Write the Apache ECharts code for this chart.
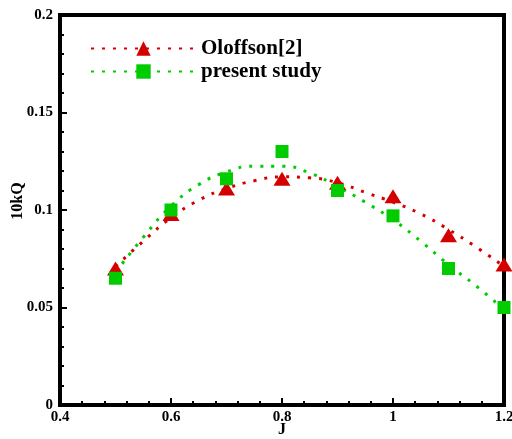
<!DOCTYPE html>
<html>
<head>
<meta charset="utf-8">
<script src="https://cdn.jsdelivr.net/npm/echarts@6/dist/echarts.min.js"></script>
<style>
  html, body { margin: 0; padding: 0; background: #fff; }
  #chart { width: 512px; height: 439px; }
</style>
</head>
<body>
<div id="chart"></div>
<script>
// 测点
const jVals = [0.5, 0.6, 0.7, 0.8, 0.9, 1.0, 1.1, 1.2];
const oloffVals = [0.070, 0.098, 0.111, 0.116, 0.114, 0.107, 0.087, 0.072];
const presentVals = [0.065, 0.100, 0.116, 0.130, 0.110, 0.097, 0.070, 0.050];
// 拟合曲线
const curveJ = [0.5, 0.55, 0.6, 0.65, 0.7, 0.75, 0.8, 0.85, 0.9, 0.95, 1.0, 1.05, 1.1, 1.15, 1.2];
const oloffCurve = [0.071, 0.084, 0.096, 0.105, 0.111, 0.115, 0.117, 0.1165, 0.114, 0.109, 0.104, 0.098, 0.090, 0.081, 0.071];
const presentCurve = [0.068, 0.086, 0.102, 0.113, 0.1195, 0.1225, 0.1225, 0.119, 0.112, 0.104, 0.095, 0.084, 0.072, 0.061, 0.049];
const seriesNames = ['Oloffson[2]', 'present study'];

const RED = '#d40000';
const GREEN = '#00cc00';
const FONT = 'Liberation Serif';

const pair = (xs, ys) => xs.map((x, i) => [x, ys[i]]);

const chart = echarts.init(document.getElementById('chart'));

const axisCommon = {
  type: 'value',
  nameMoveOverlap: false,
  axisLine: { show: true, onZero: false, lineStyle: { color: '#000', width: 4 } },
  axisTick: { show: true, inside: true, length: 7, lineStyle: { color: '#000', width: 2 } },
  minorTick: { show: true, splitNumber: 5, length: 4, lineStyle: { color: '#000', width: 2 } },
  splitLine: { show: false },
  axisLabel: { color: '#000', fontFamily: FONT, fontWeight: 'bold', fontSize: 15 },
  nameTextStyle: { color: '#000', fontFamily: FONT, fontWeight: 'bold', fontSize: 16 }
};

chart.setOption({
  animation: false,
  backgroundColor: '#fff',
  grid: {
    left: 60, right: 8, top: 15, bottom: 34,
    containLabel: false, outerBoundsMode: 'none',
    show: true, borderColor: '#000', borderWidth: 4
  },
  legend: {
    data: seriesNames,
    orient: 'vertical',
    left: 85, top: 33,
    itemWidth: 105, itemHeight: 18, itemGap: 2,
    textStyle: { color: '#000', fontFamily: FONT, fontWeight: 'bold', fontSize: 21 }
  },
  xAxis: Object.assign({}, axisCommon, {
    min: 0.4, max: 1.2, interval: 0.2,
    name: 'J', nameLocation: 'middle', nameGap: 17,
    axisLabel: Object.assign({}, axisCommon.axisLabel, { margin: 5 })
  }),
  yAxis: Object.assign({}, axisCommon, {
    min: 0, max: 0.2, interval: 0.05,
    name: '10kQ', nameLocation: 'middle', nameGap: 34,
    nameTextStyle: Object.assign({}, axisCommon.nameTextStyle, { padding: [0, 0, 0, 18] }),
    axisLabel: Object.assign({}, axisCommon.axisLabel, { margin: 7 })
  }),
  series: [
    {
      name: seriesNames[0], type: 'line', smooth: true,
      symbol: 'triangle', symbolSize: 16, showSymbol: false,
      itemStyle: { color: RED },
      lineStyle: { color: RED, width: 3, type: [3, 8] },
      data: pair(curveJ, oloffCurve), z: 2
    },
    {
      name: seriesNames[1], type: 'line', smooth: true,
      symbol: 'rect', symbolSize: 14, showSymbol: false,
      itemStyle: { color: GREEN },
      lineStyle: { color: GREEN, width: 3, type: [3, 8] },
      data: pair(curveJ, presentCurve), z: 2
    },
    {
      name: seriesNames[0], type: 'scatter',
      symbol: 'triangle', symbolSize: [17, 14],
      itemStyle: { color: RED, opacity: 1 },
      data: pair(jVals, oloffVals), z: 3
    },
    {
      name: seriesNames[1], type: 'scatter',
      symbol: 'rect', symbolSize: 13,
      itemStyle: { color: GREEN, opacity: 1 },
      data: pair(jVals, presentVals), z: 4
    }
  ]
});
</script>
</body>
</html>
